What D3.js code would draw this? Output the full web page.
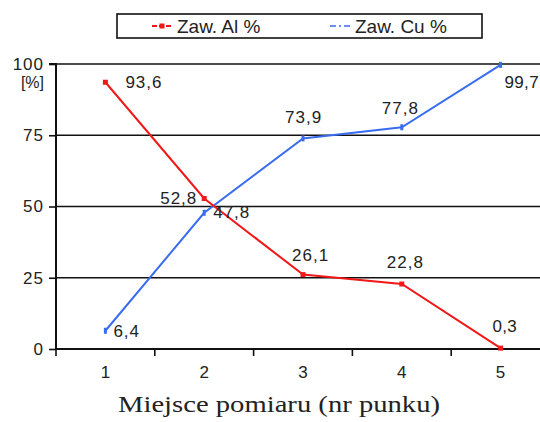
<!DOCTYPE html>
<html><head><meta charset="utf-8">
<script src="https://cdn.jsdelivr.net/npm/d3@7"></script>
<style>body{margin:0;background:#fff}svg{display:block}</style>
</head><body><svg id="c" width="540" height="422"></svg>
<script>
const categories = [1, 2, 3, 4, 5];
const alValues = [93.6, 52.8, 26.1, 22.8, 0.3];
const cuValues = [6.4, 47.8, 73.9, 77.8, 99.7];
const alLabels = ["93,6", "52,8", "26,1", "22,8", "0,3"];
const cuLabels = ["6,4", "47,8", "73,9", "77,8", "99,7"];
const yTicks = [0, 25, 50, 75, 100];
const seriesNames = ["Zaw. Al %", "Zaw. Cu %"];
const xTitle = "Miejsce pomiaru (nr punku)";

(function () {
const svg = d3.select("#c");
const pL = 56, pR = 550, pT = 64, pB = 349;
const x = d3.scaleBand().domain(categories).range([pL, pR]);
const cx = d => x(d) + x.bandwidth() / 2;
const y = d3.scaleLinear().domain([0, 100]).range([pB, pT]);
const font = "Liberation Sans, Arial, sans-serif";
const fs = 17;

// gridlines
svg.append("g").selectAll("line").data(yTicks.filter(t => t > 0)).join("line")
  .attr("x1", pL).attr("x2", 540).attr("y1", d => y(d)).attr("y2", d => y(d))
  .attr("stroke", "#111").attr("stroke-width", 1.6);

// y axis
const ya = svg.append("g").attr("transform", `translate(${pL},0)`)
  .call(d3.axisLeft(y).tickValues(yTicks).tickSize(7).tickPadding(5));
ya.select(".domain").attr("stroke", "#111").attr("stroke-width", 2).attr("d", `M-7,${pT}H0V${pB}`);
ya.selectAll(".tick line").attr("stroke", "#111").attr("stroke-width", 1.6);
ya.selectAll(".tick text").attr("font-family", font).attr("font-size", fs).attr("letter-spacing", 1).attr("fill", "#222");
svg.append("text").attr("x", 44).attr("y", 88).attr("text-anchor", "end")
  .attr("font-family", font).attr("font-size", 16).attr("fill", "#222").text("[%]");

// x axis
const xa = svg.append("g").attr("transform", `translate(0,${pB})`)
  .call(d3.axisBottom(x).tickSize(0).tickPadding(17));
xa.select(".domain").attr("stroke", "#111").attr("stroke-width", 2).attr("d", `M${pL},0H540`);
xa.selectAll(".tick text").attr("font-family", font).attr("font-size", fs).attr("fill", "#222");
const bounds = categories.map(c => x(c)).concat([pR]);
svg.append("g").selectAll("line").data(bounds).join("line")
  .attr("x1", d => d).attr("x2", d => d).attr("y1", pB).attr("y2", pB + 7)
  .attr("stroke", "#111").attr("stroke-width", 1.6);

svg.append("text").attr("x", 118).attr("y", 412)
  .attr("font-family", "Liberation Serif, Times New Roman, serif").attr("font-size", 23)
  .attr("textLength", 322).attr("lengthAdjust", "spacingAndGlyphs")
  .attr("fill", "#222").text(xTitle);

// lines
const line = d3.line().x((d, i) => cx(categories[i])).y(d => y(d));
svg.append("path").datum(cuValues).attr("d", line).attr("fill", "none")
  .attr("stroke", "#3a6cf0").attr("stroke-width", 2);
svg.append("path").datum(alValues).attr("d", line).attr("fill", "none")
  .attr("stroke", "#f01818").attr("stroke-width", 2);
svg.append("g").selectAll("rect").data(alValues).join("rect")
  .attr("x", (d, i) => cx(categories[i]) - 2.5).attr("y", d => y(d) - 2.5)
  .attr("width", 5).attr("height", 5).attr("fill", "#f01818");
svg.append("g").selectAll("rect").data(cuValues).join("rect")
  .attr("x", (d, i) => cx(categories[i]) - 1.5).attr("y", d => y(d) - 3)
  .attr("width", 3).attr("height", 6).attr("fill", "#3a6cf0");

// data labels
const alOff = [[20, 6], [-44, 5.5], [-11, -14], [-15, -16], [-8, -16]];
const cuOff = [[8, 6], [9, 5], [-18, -15], [-20, -13], [4, 23]];
const lab = (vals, texts, offs) => svg.append("g").selectAll("text").data(vals).join("text")
  .attr("x", (d, i) => cx(categories[i]) + offs[i][0]).attr("y", (d, i) => y(d) + offs[i][1])
  .attr("font-family", font).attr("font-size", fs).attr("letter-spacing", (d, i) => i === 4 ? 0.3 : 1).attr("fill", "#222")
  .text((d, i) => texts[i]);
lab(alValues, alLabels, alOff);
lab(cuValues, cuLabels, cuOff);

// legend
const lg = svg.append("g");
lg.append("rect").attr("x", 117).attr("y", 14).attr("width", 365).attr("height", 24)
  .attr("fill", "#fff").attr("stroke", "#111").attr("stroke-width", 1.6);
lg.append("line").attr("x1", 152).attr("x2", 173).attr("y1", 26).attr("y2", 26)
  .attr("stroke", "#f01818").attr("stroke-width", 2).attr("stroke-dasharray", "5,2");
lg.append("rect").attr("x", 159.5).attr("y", 23.5).attr("width", 5).attr("height", 5).attr("fill", "#f01818");
lg.append("line").attr("x1", 330).attr("x2", 352).attr("y1", 26).attr("y2", 26)
  .attr("stroke", "#3a6cf0").attr("stroke-width", 1.5).attr("stroke-dasharray", "6,3,2,3");
lg.selectAll("text.l").data(seriesNames).join("text").attr("class", "l")
  .attr("x", (d, i) => i === 0 ? 177 : 355).attr("y", 33)
  .attr("font-family", font).attr("font-size", 19).attr("fill", "#222").text(d => d);
})();
</script></body></html>
